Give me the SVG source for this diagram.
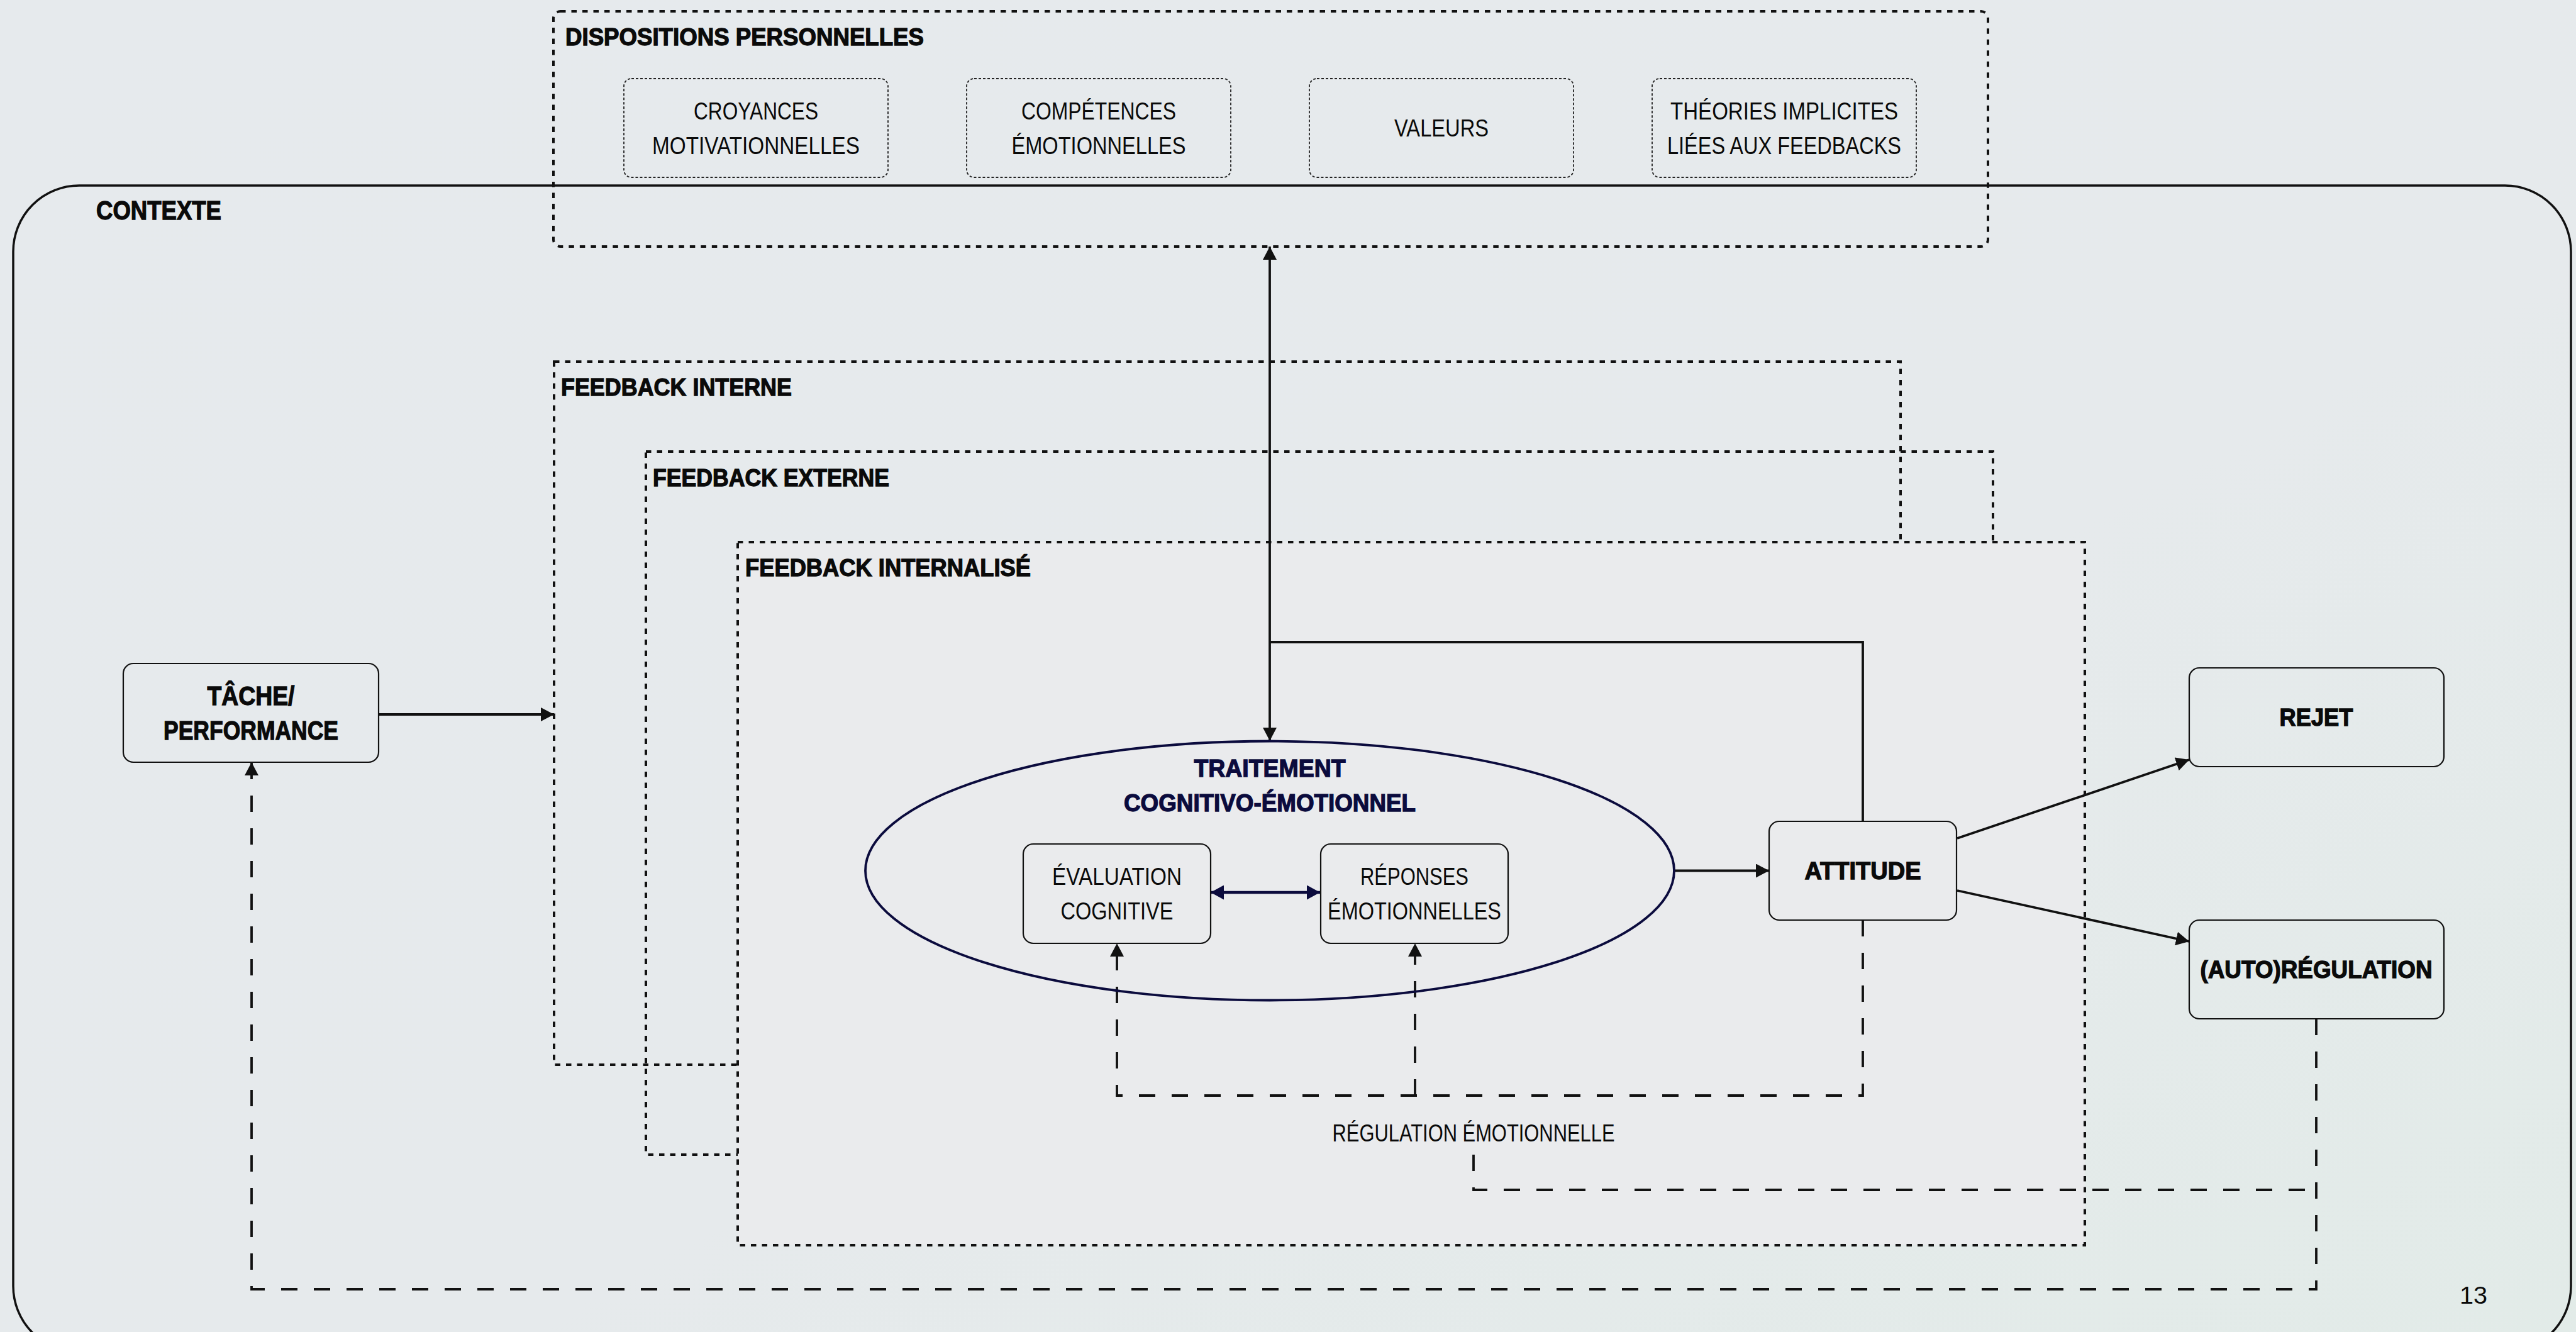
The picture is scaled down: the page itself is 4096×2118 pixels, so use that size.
<svg xmlns="http://www.w3.org/2000/svg" width="4096" height="2118" viewBox="0 0 4096 2118">
<defs>
<style>
.t{font-family:"Liberation Sans",Arial,sans-serif;fill:#0a0a0a}
.b{font-weight:700;font-size:38px;stroke:#0a0a0a;stroke-width:1.3}
.r{font-weight:400;font-size:38px}
.big{font-size:42px}
.navy{fill:#0b0b3d;stroke:#0b0b3d}
.box{fill:none;stroke:#111;stroke-width:2.2}
.grp{fill:none;stroke:#111;stroke-width:4;stroke-dasharray:8.5 9}
.sub{fill:none;stroke:#222;stroke-width:1.8;stroke-dasharray:4 3}
.conn{fill:none;stroke:#111;stroke-width:3.8}
.dash{stroke-dasharray:26 26}
</style>
<linearGradient id="bg" x1="0" y1="0" x2="1" y2="1">
<stop offset="0" stop-color="#e6eaed"/>
<stop offset="0.6" stop-color="#e6eaec"/>
<stop offset="1" stop-color="#e2ebe8"/>
</linearGradient>
<marker id="ah" markerUnits="userSpaceOnUse" viewBox="0 0 21 22" markerWidth="21" markerHeight="22" refX="21" refY="11" orient="auto-start-reverse">
<path d="M0,0 L21,11 L0,22 z" fill="#111"/>
</marker>
<marker id="ahn" markerUnits="userSpaceOnUse" viewBox="0 0 21 23" markerWidth="21" markerHeight="23" refX="21" refY="11.5" orient="auto-start-reverse">
<path d="M0,0 L21,11.5 L0,23 z" fill="#0b0b3d"/>
</marker>
</defs>
<rect x="0" y="0" width="4096" height="2118" fill="url(#bg)"/>

<g id="contexte">
<rect x="21" y="295" width="4067" height="1855" rx="105" fill="none" stroke="#111" stroke-width="3.5"/>
<text class="t b big" x="153" y="349" textLength="199" lengthAdjust="spacingAndGlyphs">CONTEXTE</text>
</g>

<g id="dispositions">
<rect class="grp" x="880" y="18" width="2281" height="374" rx="11"/>
<text class="t b" x="899" y="72" textLength="570" lengthAdjust="spacingAndGlyphs">DISPOSITIONS PERSONNELLES</text>
</g>
<g id="croyances">
<rect class="sub" x="992" y="125" width="420" height="157" rx="12"/>
<text class="t r" x="1202" y="190" text-anchor="middle" textLength="198" lengthAdjust="spacingAndGlyphs">CROYANCES</text>
<text class="t r" x="1202" y="245" text-anchor="middle" textLength="330" lengthAdjust="spacingAndGlyphs">MOTIVATIONNELLES</text>
</g>
<g id="competences">
<rect class="sub" x="1537" y="125" width="420" height="157" rx="12"/>
<text class="t r" x="1747" y="190" text-anchor="middle" textLength="246" lengthAdjust="spacingAndGlyphs">COMPÉTENCES</text>
<text class="t r" x="1747" y="245" text-anchor="middle" textLength="277" lengthAdjust="spacingAndGlyphs">ÉMOTIONNELLES</text>
</g>
<g id="valeurs">
<rect class="sub" x="2082" y="125" width="420" height="157" rx="12"/>
<text class="t r" x="2292" y="217" text-anchor="middle" textLength="150" lengthAdjust="spacingAndGlyphs">VALEURS</text>
</g>
<g id="theories">
<rect class="sub" x="2627" y="125" width="420" height="157" rx="12"/>
<text class="t r" x="2837" y="190" text-anchor="middle" textLength="362" lengthAdjust="spacingAndGlyphs">THÉORIES IMPLICITES</text>
<text class="t r" x="2837" y="245" text-anchor="middle" textLength="372" lengthAdjust="spacingAndGlyphs">LIÉES AUX FEEDBACKS</text>
</g>

<g id="feedback-interne">
<rect class="grp" x="881" y="575" width="2141" height="1118"/>
<text class="t b" x="892" y="629" textLength="367" lengthAdjust="spacingAndGlyphs">FEEDBACK INTERNE</text>
</g>
<g id="feedback-externe">
<rect class="grp" x="1027" y="718" width="2142" height="1118"/>
<text class="t b" x="1038" y="773" textLength="376" lengthAdjust="spacingAndGlyphs">FEEDBACK EXTERNE</text>
</g>
<g id="feedback-internalise">
<rect class="grp" x="1173" y="862" width="2142" height="1118" style="fill:#eaebed"/>
<text class="t b" x="1185" y="916" textLength="454" lengthAdjust="spacingAndGlyphs">FEEDBACK INTERNALISÉ</text>
</g>

<g id="connectors">
<path class="conn" d="M602,1136 H881" marker-end="url(#ah)"/>
<path class="conn" d="M2019,392 V1178" marker-start="url(#ah)" marker-end="url(#ah)"/>
<path class="conn" d="M2019,1021 H2962 V1306"/>
<path class="conn" d="M2662,1384.5 H2813" marker-end="url(#ah)"/>
<path d="M1925,1419 H2099" fill="none" stroke="#0b0b3d" stroke-width="4.4" marker-start="url(#ahn)" marker-end="url(#ahn)"/>
<path class="conn" d="M3112,1333 L3481,1208" marker-end="url(#ah)"/>
<path class="conn" d="M3112,1416 L3481,1497" marker-end="url(#ah)"/>
<path class="conn dash" d="M2962,1463 V1742 H1776 V1500" marker-end="url(#ah)"/>
<path class="conn dash" d="M2250,1742 V1500" marker-end="url(#ah)"/>
<path class="conn dash" d="M2343,1836 V1892 H3683"/>
<path class="conn dash" d="M3683,1620 V2050 H400 V1212" marker-end="url(#ah)"/>
</g>

<g id="tache">
<rect class="box" x="196" y="1055" width="406" height="157" rx="16"/>
<text class="t b big" x="399" y="1121" text-anchor="middle" textLength="139" lengthAdjust="spacingAndGlyphs">TÂCHE/</text>
<text class="t b big" x="399" y="1176" text-anchor="middle" textLength="278" lengthAdjust="spacingAndGlyphs">PERFORMANCE</text>
</g>

<g id="traitement">
<ellipse cx="2019" cy="1384.5" rx="643" ry="206" fill="none" stroke="#0b0b3d" stroke-width="3.8"/>
<text class="t b navy" x="2019" y="1235" text-anchor="middle" textLength="241" lengthAdjust="spacingAndGlyphs">TRAITEMENT</text>
<text class="t b navy" x="2019" y="1290" text-anchor="middle" textLength="464" lengthAdjust="spacingAndGlyphs">COGNITIVO-ÉMOTIONNEL</text>
</g>
<g id="evaluation">
<rect class="box" x="1627" y="1342" width="298" height="158" rx="16"/>
<text class="t r" x="1776" y="1407" text-anchor="middle" textLength="206" lengthAdjust="spacingAndGlyphs">ÉVALUATION</text>
<text class="t r" x="1776" y="1462" text-anchor="middle" textLength="179" lengthAdjust="spacingAndGlyphs">COGNITIVE</text>
</g>
<g id="reponses">
<rect class="box" x="2100" y="1342" width="298" height="158" rx="16"/>
<text class="t r" x="2249" y="1407" text-anchor="middle" textLength="172" lengthAdjust="spacingAndGlyphs">RÉPONSES</text>
<text class="t r" x="2249" y="1462" text-anchor="middle" textLength="276" lengthAdjust="spacingAndGlyphs">ÉMOTIONNELLES</text>
</g>
<g id="attitude">
<rect class="box" x="2813" y="1306" width="298" height="157" rx="16"/>
<text class="t b" x="2962" y="1398" text-anchor="middle" textLength="185" lengthAdjust="spacingAndGlyphs">ATTITUDE</text>
</g>
<g id="rejet">
<rect class="box" x="3481" y="1062" width="405" height="157" rx="16"/>
<text class="t b" x="3683" y="1154" text-anchor="middle" textLength="117" lengthAdjust="spacingAndGlyphs">REJET</text>
</g>
<g id="autoregulation">
<rect class="box" x="3481" y="1463" width="405" height="157" rx="16"/>
<text class="t b" x="3683" y="1555" text-anchor="middle" textLength="369" lengthAdjust="spacingAndGlyphs">(AUTO)RÉGULATION</text>
</g>
<g id="regulation-emotionnelle">
<text class="t r" x="2343" y="1815" text-anchor="middle" textLength="449" lengthAdjust="spacingAndGlyphs">RÉGULATION ÉMOTIONNELLE</text>
</g>
<text class="t r" x="3933" y="2073" text-anchor="middle" textLength="44" lengthAdjust="spacingAndGlyphs">13</text>
</svg>
